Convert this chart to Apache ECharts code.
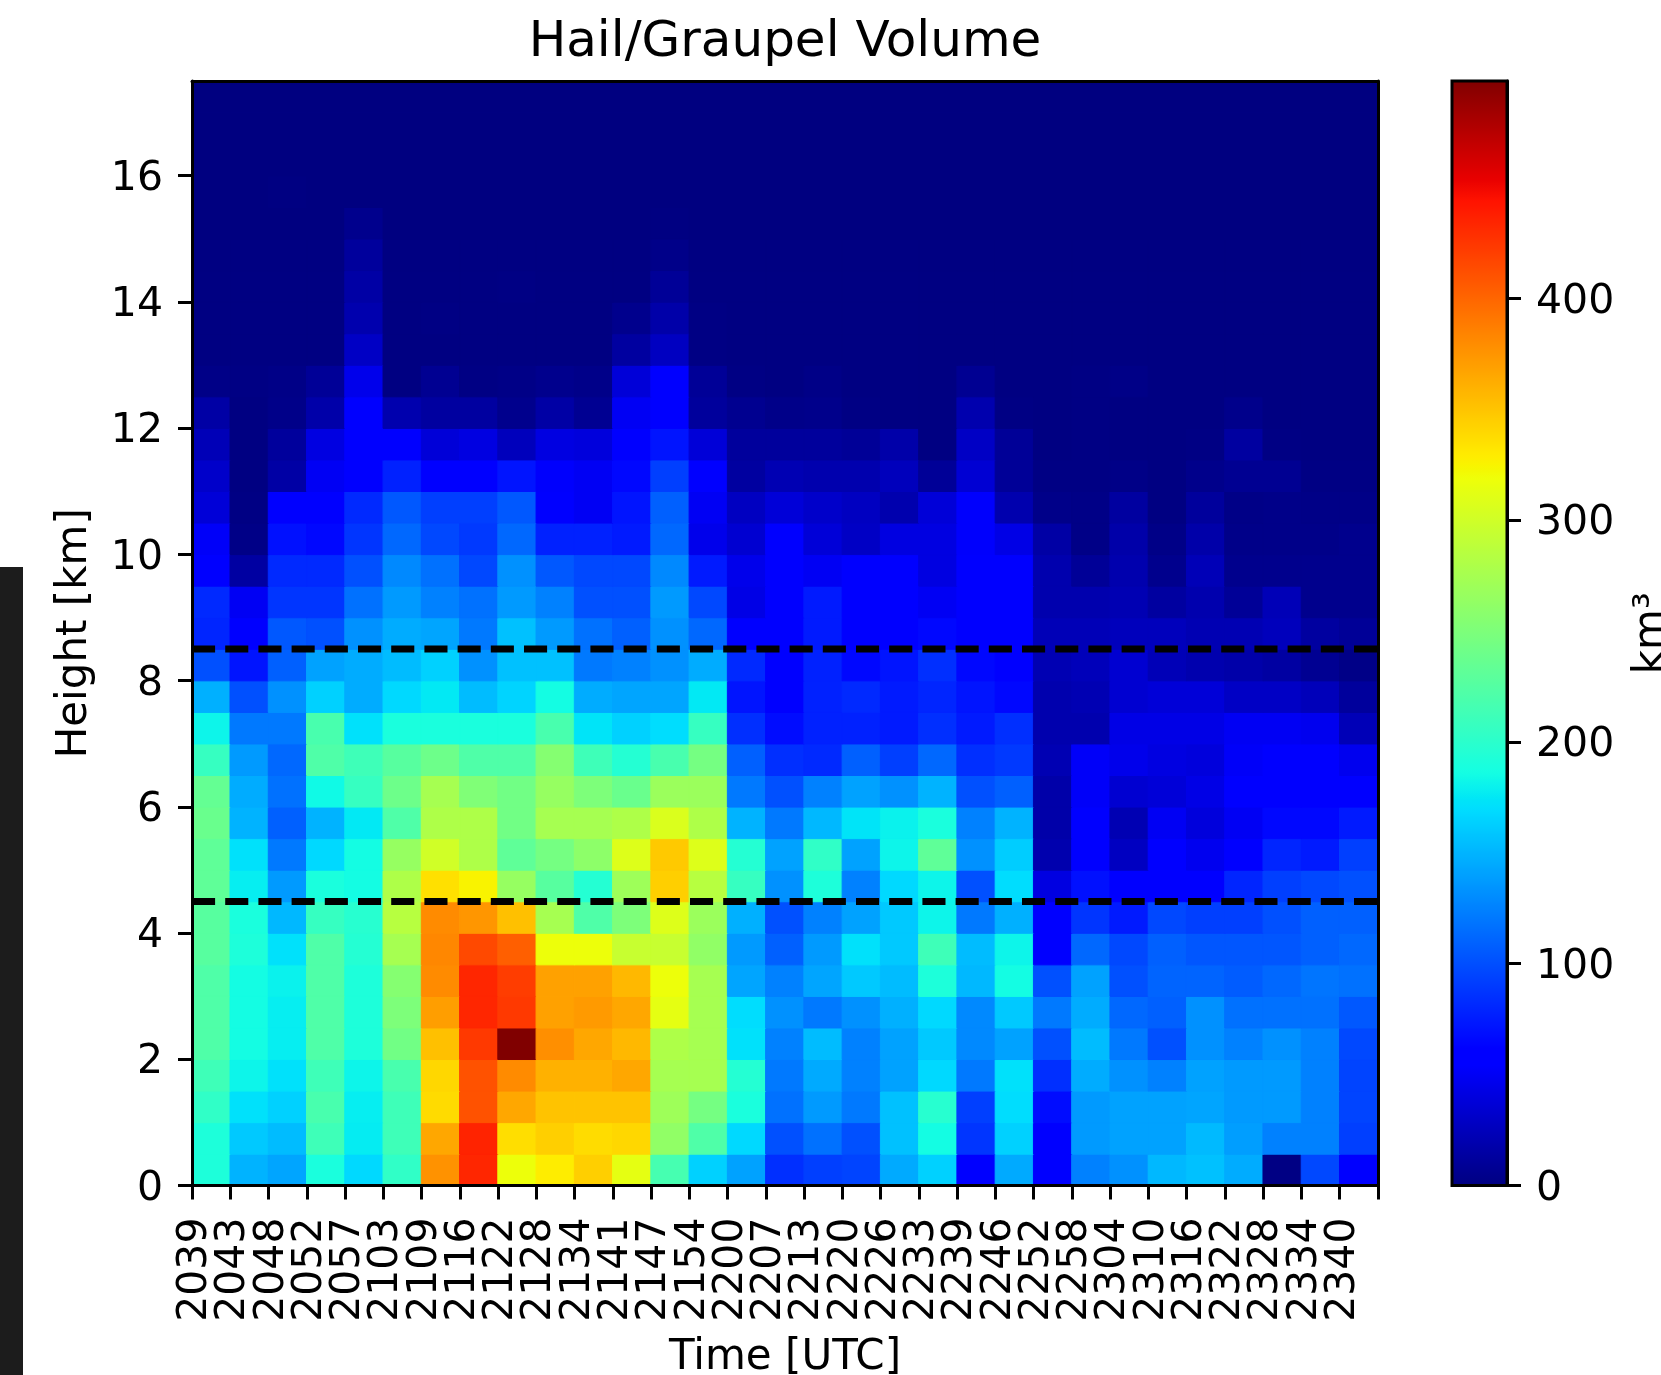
<!DOCTYPE html>
<html>
<head>
<meta charset="utf-8">
<title>Hail/Graupel Volume</title>
<script src="https://cdn.jsdelivr.net/npm/echarts@6/dist/echarts.min.js"></script>
<style>
  html, body { margin: 0; padding: 0; background: #fff; }
  #chart { width: 1661px; height: 1375px; }
</style>
</head>
<body>
<div id="chart"></div>
<script>
const times = ['2039','2043','2048','2052','2057','2103','2109','2116','2122','2128','2134','2141','2147','2154','2200','2207','2213','2220','2226','2233','2239','2246','2252','2258','2304','2310','2316','2322','2328','2334','2340'];
const heights = ['0.0','0.5','1.0','1.5','2.0','2.5','3.0','3.5','4.0','4.5','5.0','5.5','6.0','6.5','7.0','7.5','8.0','8.5','9.0','9.5','10.0','10.5','11.0','11.5','12.0','12.5','13.0','13.5','14.0','14.5','15.0','15.5','16.0','16.5','17.0'];
const heightTicks = [0, 2, 4, 6, 8, 10, 12, 14, 16];
const volumeTicks = [0, 100, 200, 300, 400];
const volumeMax = 498;
const dashHeights = [4.5, 8.5];

// km3 per time step, one row per height bin, lowest bin first
const volume = [
  [192,150,143,190,168,203,376,433,318,328,344,313,217,164,141,85,93,95,145,164,58,145,58,125,133,152,156,146,2,97,60],
  [192,160,154,212,177,212,365,435,336,344,337,340,262,222,168,101,117,101,156,186,88,164,60,137,141,141,153,139,125,125,93],
  [203,172,164,218,178,212,338,410,365,350,350,350,270,245,190,117,137,121,156,198,93,170,68,137,141,141,143,137,137,125,95],
  [212,182,172,212,182,218,340,410,380,360,360,365,275,275,196,121,145,125,141,168,121,172,85,146,133,125,141,137,137,125,95],
  [222,186,178,222,192,243,352,423,498,378,365,356,280,275,172,125,154,125,141,160,129,141,101,154,121,101,133,125,133,125,97],
  [222,186,178,222,192,250,370,433,423,368,372,365,313,275,170,133,121,133,148,168,129,160,121,146,113,109,133,117,117,117,105],
  [222,186,180,222,192,255,380,433,421,368,368,356,318,275,143,125,143,160,154,192,152,186,101,141,101,111,111,107,113,119,117],
  [227,192,172,222,196,275,382,415,403,318,318,295,295,262,137,109,137,172,160,212,154,182,60,113,97,109,104,104,104,109,113],
  [227,190,152,207,198,285,380,374,352,275,222,250,308,268,148,101,125,141,160,182,121,148,58,88,75,97,93,93,101,109,109],
  [232,178,137,190,186,280,335,325,265,227,196,270,344,285,207,133,192,125,168,182,101,170,42,70,62,58,60,80,93,97,101],
  [232,172,121,168,186,265,300,280,232,245,260,308,347,308,196,141,203,141,182,232,133,162,20,58,28,56,48,56,80,75,93],
  [238,150,109,150,176,222,280,280,243,275,275,280,306,280,150,121,152,174,180,190,125,150,18,56,22,50,40,50,66,66,75],
  [235,146,117,184,207,240,275,252,243,265,250,238,268,268,121,101,125,141,133,150,101,109,18,52,35,38,44,56,58,56,56],
  [207,137,113,222,212,227,240,222,222,255,212,196,218,245,109,85,82,109,93,113,85,90,22,52,46,42,40,52,58,56,48],
  [182,121,121,218,172,190,190,190,190,218,174,164,170,207,85,68,78,78,75,85,75,85,20,20,44,44,44,50,50,48,24],
  [148,101,133,164,146,168,176,154,166,186,146,143,143,176,72,56,78,82,75,80,72,66,20,22,35,38,38,30,30,25,12],
  [101,72,109,141,146,154,164,133,156,156,121,125,133,146,82,56,78,66,72,85,66,58,22,25,35,24,20,18,15,8,3],
  [80,58,105,101,133,146,143,121,156,137,117,109,133,113,56,56,75,58,58,66,58,58,24,24,26,26,22,22,26,14,10],
  [82,50,88,88,117,137,125,117,137,125,101,101,137,97,44,56,75,58,58,50,56,56,20,20,22,14,20,10,24,6,6],
  [62,15,82,82,101,129,117,97,133,105,97,97,129,75,46,56,50,56,56,42,56,56,20,10,20,6,24,6,6,6,6],
  [52,3,70,66,88,113,97,90,113,78,78,75,113,46,35,56,38,30,42,42,54,44,16,3,18,3,18,4,4,4,6],
  [38,2,58,56,82,105,93,93,105,60,50,72,109,50,28,38,32,28,20,38,54,20,4,3,14,1,12,3,4,3,3],
  [32,1,16,50,62,78,60,60,72,54,50,66,93,56,14,22,20,20,26,10,36,10,2,2,3,1,5,8,8,2,2],
  [24,1,12,42,60,58,38,42,26,42,40,58,72,38,12,12,12,10,18,1,30,10,1,2,1,1,2,14,2,1,1],
  [16,1,4,18,58,20,14,14,6,16,8,50,58,12,7,4,5,2,1,1,20,2,1,2,1,1,1,5,1,1,1],
  [3,2,3,10,46,1,8,2,3,6,4,38,56,10,2,1,3,1,1,1,8,1,1,2,3,1,1,1,1,1,1],
  [1,1,1,1,30,1,1,1,1,1,1,14,28,2,1,1,1,1,1,1,1,1,1,1,1,1,1,1,1,1,1],
  [1,1,1,1,20,1,2,1,1,1,1,6,18,2,1,1,1,1,1,1,1,1,1,1,1,1,1,1,1,1,1],
  [1,1,1,1,16,1,1,1,2,1,1,1,10,1,1,1,1,1,1,1,1,1,1,1,1,1,1,1,1,1,1],
  [1,1,1,1,12,1,1,1,1,1,1,1,4,1,1,1,1,1,1,1,1,1,1,1,1,1,1,1,1,1,1],
  [0,0,0,0,6,0,0,0,0,0,0,0,1,0,0,0,0,0,0,0,0,0,0,0,0,0,0,0,0,0,0],
  [0,0,1,0,0,0,0,0,0,0,0,0,0,0,0,0,0,0,0,0,0,0,0,0,0,0,0,0,0,0,0],
  [0,0,0,0,0,0,0,0,0,0,0,0,0,0,0,0,0,0,0,0,0,0,0,0,0,0,0,0,0,0,0],
  [0,0,0,0,0,0,0,0,0,0,0,0,0,0,0,0,0,0,0,0,0,0,0,0,0,0,0,0,0,0,0],
  [0,0,0,0,0,0,0,0,0,0,0,0,0,0,0,0,0,0,0,0,0,0,0,0,0,0,0,0,0,0,0]
];

// matplotlib jet
function ramp(t, pts) {
  for (let i = 1; i < pts.length; i++) {
    if (t <= pts[i][0]) {
      const a = pts[i - 1], b = pts[i];
      return a[1] + (b[1] - a[1]) * (t - a[0]) / (b[0] - a[0]);
    }
  }
  return pts[pts.length - 1][1];
}
function jet(t) {
  const r = ramp(t, [[0, 0], [0.35, 0], [0.66, 1], [0.89, 1], [1, 0.5]]);
  const g = ramp(t, [[0, 0], [0.125, 0], [0.375, 1], [0.64, 1], [0.91, 0], [1, 0]]);
  const b = ramp(t, [[0, 0.5], [0.11, 1], [0.34, 1], [0.65, 0], [1, 0]]);
  return 'rgb(' + Math.round(r * 255) + ',' + Math.round(g * 255) + ',' + Math.round(b * 255) + ')';
}
const jetColors = [];
for (let i = 0; i < 256; i++) jetColors.push(jet(i / 255));
const jetStops = jetColors.map((c, i) => ({ offset: i / 255, color: c }));

// same colour border on each cell closes the seams between cells
const cells = [];
volume.forEach((row, y) => {
  row.forEach((v, x) => cells.push({
    value: [x, y, v],
    itemStyle: { borderColor: jet(v / volumeMax), borderWidth: 1 }
  }));
});

const FONT = 'DejaVu Sans';
const nameText = { fontFamily: FONT, fontSize: 42, color: '#000' };
const blackLine = { color: '#000', width: 3 };
// rich label with top padding sits the digits level with their tick
const tickRich = { t: { fontFamily: FONT, fontSize: 41, color: '#000', padding: [7, 0, 0, 0] } };
const tickLabel = v => '{t|' + v + '}';

const chart = echarts.init(document.getElementById('chart'));
chart.setOption({
  animation: false,
  backgroundColor: '#fff',
  title: {
    text: 'Hail/Graupel Volume',
    left: 780,
    top: 13,
    textAlign: 'center',
    textStyle: { fontFamily: FONT, fontSize: 50, fontWeight: 'normal', color: '#000' }
  },
  graphic: [{
    type: 'rect',
    shape: { x: 0, y: 567, width: 23, height: 808 },
    style: { fill: '#1c1c1c' }
  }],
  grid: [
    { left: 192, top: 81, width: 1186, height: 1104.5, outerBoundsMode: 'none' },
    {
      left: 1452, top: 81, width: 55, height: 1104.5, show: true, outerBoundsMode: 'none',
      borderColor: '#000', borderWidth: 3,
      backgroundColor: new echarts.graphic.LinearGradient(0, 1, 0, 0, jetStops)
    }
  ],
  xAxis: [
    // heatmap axis, only its line is visible, used as the top spine
    {
      type: 'category', gridIndex: 0, data: times, position: 'top', z: 5,
      axisLine: { show: true, onZero: false, lineStyle: blackLine },
      axisTick: { show: false }, axisLabel: { show: false }, splitLine: { show: false }
    },
    // tick axis: labels sit on the cell edges, one empty category closes the last cell
    {
      type: 'category', gridIndex: 0, data: times.concat(''), boundaryGap: false, position: 'bottom', z: 5,
      name: 'Time [UTC]', nameLocation: 'middle', nameGap: 152,
      nameTextStyle: nameText,
      axisLine: { show: true, onZero: false, lineStyle: blackLine },
      axisTick: { show: true, length: 14, lineStyle: blackLine, interval: 0, alignWithLabel: true },
      axisLabel: {
        show: true, rotate: 90, margin: 32, interval: 0,
        rich: tickRich,
        formatter: v => v === '' ? '' : tickLabel(v)
      },
      splitLine: { show: false }
    },
    { type: 'value', gridIndex: 1, min: 0, max: 1, show: false }
  ],
  yAxis: [
    // heatmap axis, used as the right spine
    {
      type: 'category', gridIndex: 0, data: heights, position: 'right', z: 5,
      axisLine: { show: true, onZero: false, lineStyle: blackLine },
      axisTick: { show: false }, axisLabel: { show: false }, splitLine: { show: false }
    },
    {
      type: 'value', gridIndex: 0, min: 0, max: 17.5, position: 'left', z: 5,
      name: 'Height [km]', nameLocation: 'middle', nameRotate: 90, nameGap: 96,
      nameTextStyle: nameText,
      axisLine: { show: true, onZero: false, lineStyle: blackLine },
      axisTick: { show: true, length: 14, lineStyle: blackLine, customValues: heightTicks },
      axisLabel: {
        show: true, margin: 29, showMinLabel: true, customValues: heightTicks,
        rich: tickRich, formatter: tickLabel
      },
      splitLine: { show: false }
    },
    {
      type: 'value', gridIndex: 1, min: 0, max: volumeMax, position: 'right', z: 5,
      name: 'km³', nameLocation: 'middle', nameRotate: 90, nameGap: 124,
      nameTextStyle: nameText,
      axisLine: { show: true, onZero: false, lineStyle: blackLine },
      axisTick: { show: true, length: 14, lineStyle: blackLine, customValues: volumeTicks },
      axisLabel: {
        show: true, margin: 29, showMinLabel: true, customValues: volumeTicks,
        rich: tickRich, formatter: tickLabel
      },
      splitLine: { show: false }
    }
  ],
  visualMap: {
    show: false, type: 'continuous', seriesIndex: 0, dimension: 2,
    min: 0, max: volumeMax,
    inRange: { color: jetColors }
  },
  series: [
    {
      type: 'heatmap', xAxisIndex: 0, yAxisIndex: 0, data: cells,
      progressive: 0, silent: true, emphasis: { disabled: true }
    }
  ].concat(dashHeights.map(h => ({
    type: 'line', xAxisIndex: 1, yAxisIndex: 1, z: 4, silent: true,
    showSymbol: false, symbol: 'none',
    data: [[0, h], [times.length, h]],
    lineStyle: { color: '#000', width: 7, type: [23.1, 10.1], cap: 'butt' }
  })))
});
</script>
</body>
</html>
